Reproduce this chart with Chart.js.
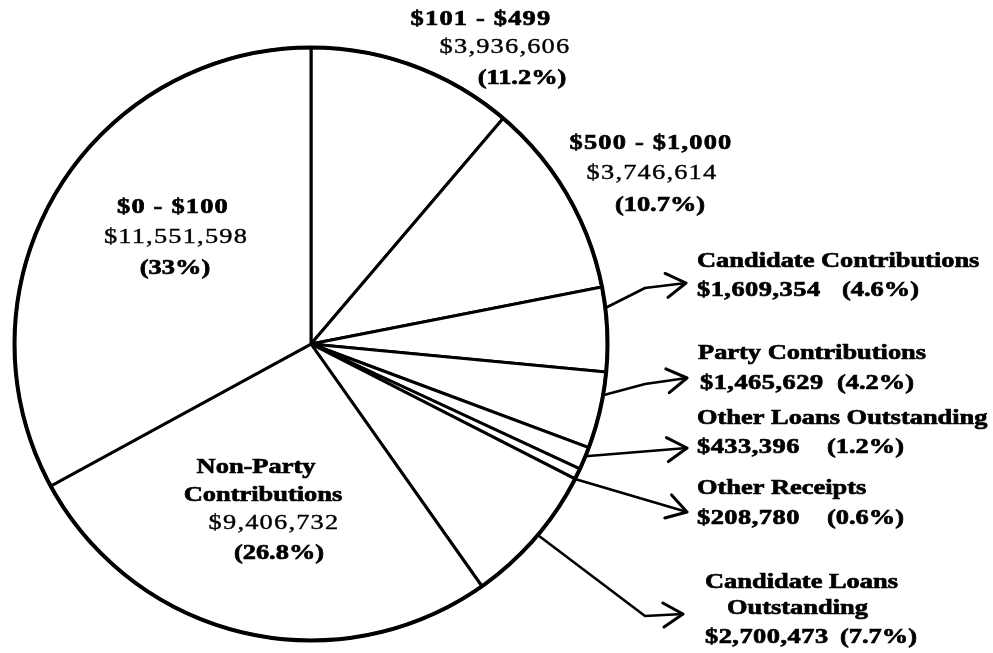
<!DOCTYPE html>
<html>
<head>
<meta charset="utf-8">
<script src="https://cdn.jsdelivr.net/npm/chart.js@4"></script>
<style>
  html, body { margin: 0; padding: 0; background: #fff; }
  #wrap { width: 993px; height: 653px; }
</style>
</head>
<body>
<div id="wrap"><canvas id="pieChart"></canvas></div>
<script>
// receipts by source, clockwise from 12 o'clock
var categories = ['$101 - $499', '$500 - $1,000', 'Candidate Contributions', 'Party Contributions',
    'Other Loans Outstanding', 'Other Receipts', 'Candidate Loans Outstanding',
    'Non-Party Contributions', '$0 - $100'];
var amounts = [3936606, 3746614, 1609354, 1465629, 433396, 208780, 2700473, 9406732, 11551598];
var percents = ['11.2%', '10.7%', '4.6%', '4.2%', '1.2%', '0.6%', '7.7%', '26.8%', '33%'];

function money(i) { return '$' + amounts[i].toLocaleString('en-US'); }
function pct(i) { return '(' + percents[i] + ')'; }

// text placement (x, y = centre of line)
var insideLabels = [
    { i: 0, lines: [['$101 - $499', 481, 19, true], [money(0), 505, 47, false], [pct(0), 522, 78, true]] },
    { i: 1, lines: [['$500 - $1,000', 651, 143, true], [money(1), 652, 173, false], [pct(1), 660, 205, true]] },
    { i: 8, lines: [['$0 - $100', 173, 207, true], [money(8), 176, 237, false], [pct(8), 175, 268, true]] },
    { i: 7, lines: [['Non-Party', 256, 467, true], ['Contributions', 263, 495, true], [money(7), 274, 523, false], [pct(7), 279, 553, true]] }
];
var sideLabels = [
    { i: 2, lines: [['Candidate Contributions', 697, 261]], amt: [697, 290], pc: 842, f: 0.25, bend: [645, 288], tip: [686, 283] },
    { i: 3, lines: [['Party Contributions', 698, 353]], amt: [700, 383], pc: 837, f: 0.3, bend: [645, 384], tip: [687, 378] },
    { i: 4, lines: [['Other Loans Outstanding', 697, 418]], amt: [697, 447], pc: 827, f: 0.4, bend: null, tip: [687, 448] },
    { i: 5, lines: [['Other Receipts', 697, 488]], amt: [697, 518], pc: 827, f: 1.0, bend: null, tip: [687, 512] },
    { i: 6, lines: [['Candidate Loans', 705, 582], ['Outstanding', 727, 608]], amt: [705, 637], pc: 840, f: 0.47, bend: [645, 616], tip: [683, 614] }
];

var STRETCH = 1.2;
function drawText(ctx, txt, x, y, bold, align) {
    ctx.save();
    ctx.font = (bold ? 'bold ' : '') + '22px "Liberation Serif", "Times New Roman", serif';
    ctx.fillStyle = '#000';
    ctx.strokeStyle = '#000';
    ctx.textBaseline = 'middle';
    ctx.letterSpacing = /^\$\d/.test(txt) ? (align === 'left' ? '0.4px' : '1px') : '0px';
    var w = ctx.measureText(txt).width * STRETCH;
    var left = align === 'center' ? x - w / 2 : x;
    ctx.translate(left, y);
    ctx.scale(STRETCH, 1);
    ctx.textAlign = 'left';
    ctx.fillText(txt, 0, 0);
    ctx.lineWidth = bold ? 0.7 : 0.4;
    ctx.strokeText(txt, 0, 0);
    ctx.restore();
}

var labelPlugin = {
    id: 'scanLabels',
    afterDatasetsDraw: function(chart) {
        var ctx = chart.ctx;
        var arcs = chart.getDatasetMeta(0).data;
        var a0 = arcs[0];
        // heavier outer rim
        ctx.save();
        ctx.beginPath();
        ctx.arc(a0.x, a0.y, a0.outerRadius, 0, Math.PI * 2);
        ctx.lineWidth = 4;
        ctx.strokeStyle = '#000';
        ctx.stroke();
        ctx.restore();

        insideLabels.forEach(function(lb) {
            lb.lines.forEach(function(l) { drawText(ctx, l[0], l[1], l[2], l[3], 'center'); });
        });

        sideLabels.forEach(function(lb) {
            var arc = arcs[lb.i];
            var ang = arc.startAngle + lb.f * (arc.endAngle - arc.startAngle);
            var sx = arc.x + Math.cos(ang) * arc.outerRadius;
            var sy = arc.y + Math.sin(ang) * arc.outerRadius;
            ctx.save();
            ctx.strokeStyle = '#000';
            ctx.lineWidth = 2.6;
            ctx.lineCap = 'round';
            ctx.lineJoin = 'round';
            ctx.beginPath();
            ctx.moveTo(sx, sy);
            var px = sx, py = sy;
            if (lb.bend) { ctx.lineTo(lb.bend[0], lb.bend[1]); px = lb.bend[0]; py = lb.bend[1]; }
            ctx.lineTo(lb.tip[0], lb.tip[1]);
            ctx.stroke();
            // open arrowhead
            var dir = Math.atan2(lb.tip[1] - py, lb.tip[0] - px);
            var len = 23, spread = 0.55;
            ctx.lineWidth = 3;
            ctx.beginPath();
            ctx.moveTo(lb.tip[0] - len * Math.cos(dir - spread), lb.tip[1] - len * Math.sin(dir - spread));
            ctx.lineTo(lb.tip[0], lb.tip[1]);
            ctx.lineTo(lb.tip[0] - len * Math.cos(dir + spread), lb.tip[1] - len * Math.sin(dir + spread));
            ctx.stroke();
            ctx.restore();

            lb.lines.forEach(function(l) { drawText(ctx, l[0], l[1], l[2], true, 'left'); });
            drawText(ctx, money(lb.i), lb.amt[0], lb.amt[1], true, 'left');
            drawText(ctx, pct(lb.i), lb.pc, lb.amt[1], true, 'left');
        });
    }
};

var ctx = document.getElementById('pieChart').getContext('2d');
var pieChart = new Chart(ctx, {
    type: 'pie',
    data: {
        labels: categories,
        datasets: [{
            data: amounts,
            backgroundColor: '#ffffff',
            borderColor: '#000000',
            borderWidth: 3,
            borderJoinStyle: 'miter'
        }]
    },
    options: {
        responsive: true,
        maintainAspectRatio: false,
        animation: false,
        layout: {
            padding: { top: 46, bottom: 11, left: 13, right: 384 }
        },
        plugins: {
            legend: { display: false },
            tooltip: { enabled: false }
        }
    },
    plugins: [labelPlugin]
});
</script>
</body>
</html>
